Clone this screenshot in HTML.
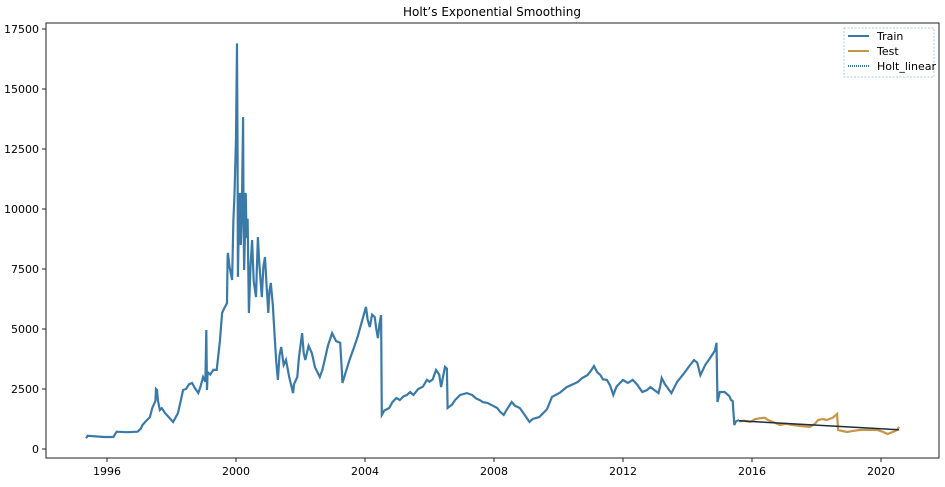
<!DOCTYPE html>
<html><head><meta charset="utf-8"><style>
body{margin:0;background:#fff;}
svg{font-family:"DejaVu Sans","Liberation Sans",sans-serif;}
</style></head><body>
<svg id="chart" width="945" height="482" xmlns="http://www.w3.org/2000/svg">
<rect width="945" height="482" fill="#fff"/>
<text x="492" y="16" text-anchor="middle" font-size="12">Holt’s Exponential Smoothing</text>
<g id="axes"></g>
<g id="series"></g>
<rect x="46" y="23" width="893" height="435" fill="none" stroke="#222" stroke-width="1"/>
<g>
<rect x="844" y="28" width="90" height="49" fill="#fff" stroke="#a8cde4" stroke-dasharray="2,1.5" stroke-width="1"/>
<line x1="848" y1="36" x2="869" y2="36" stroke="#3a7aa8" stroke-width="2"/>
<text x="877" y="40" font-size="11">Train</text>
<line x1="848" y1="51" x2="869" y2="51" stroke="#c8964a" stroke-width="2"/>
<text x="877" y="55" font-size="11">Test</text>
<line x1="848" y1="66" x2="869" y2="66" stroke="#3a7aa8" stroke-width="2" stroke-dasharray="1,1"/>
<text x="877" y="70" font-size="11">Holt_linear</text>
</g>
</svg>
<script>
const trainDates=[1995.35,1995.4,1995.9,1996.2,1996.25,1996.3,1996.6,1996.95,1997.05,1997.1,1997.2,1997.33,1997.4,1997.5,1997.52,1997.55,1997.58,1997.64,1997.7,1997.8,1997.9,1998.05,1998.12,1998.2,1998.3,1998.36,1998.45,1998.55,1998.64,1998.72,1998.83,1998.9,1998.98,1999.05,1999.08,1999.1,1999.12,1999.2,1999.3,1999.4,1999.5,1999.57,1999.65,1999.72,1999.74,1999.75,1999.8,1999.88,1999.92,1999.95,1999.98,2000.0,2000.03,2000.05,2000.06,2000.09,2000.12,2000.15,2000.18,2000.22,2000.23,2000.25,2000.28,2000.3,2000.33,2000.36,2000.4,2000.45,2000.5,2000.55,2000.62,2000.65,2000.68,2000.72,2000.8,2000.85,2000.9,2000.95,2001.0,2001.04,2001.08,2001.14,2001.2,2001.25,2001.3,2001.35,2001.4,2001.48,2001.55,2001.65,2001.77,2001.8,2001.9,2001.95,2002.05,2002.1,2002.15,2002.25,2002.35,2002.45,2002.6,2002.68,2002.75,2002.85,2002.98,2003.1,2003.23,2003.28,2003.3,2003.4,2003.52,2003.65,2003.77,2003.9,2004.03,2004.08,2004.15,2004.22,2004.3,2004.35,2004.4,2004.45,2004.5,2004.52,2004.6,2004.75,2004.85,2004.97,2005.08,2005.2,2005.3,2005.4,2005.5,2005.65,2005.8,2005.92,2006.0,2006.1,2006.2,2006.3,2006.36,2006.42,2006.48,2006.54,2006.56,2006.7,2006.8,2006.95,2007.16,2007.32,2007.45,2007.55,2007.66,2007.8,2007.97,2008.1,2008.19,2008.3,2008.4,2008.55,2008.65,2008.8,2008.96,2009.1,2009.2,2009.4,2009.64,2009.8,2010.05,2010.25,2010.45,2010.6,2010.73,2010.9,2011.0,2011.1,2011.2,2011.3,2011.38,2011.5,2011.6,2011.7,2011.8,2012.0,2012.15,2012.3,2012.43,2012.6,2012.74,2012.85,2012.98,2013.1,2013.15,2013.2,2013.3,2013.5,2013.68,2013.9,2014.08,2014.2,2014.3,2014.4,2014.55,2014.7,2014.85,2014.9,2014.93,2015.0,2015.15,2015.3,2015.35,2015.4,2015.45,2015.5,2015.6];
const trainVals=[450,550,500,500,620,720,700,720,850,1000,1150,1330,1700,2000,2500,2460,2000,1625,1700,1500,1350,1125,1300,1500,2100,2460,2500,2700,2750,2550,2330,2600,3000,2800,4960,2460,3200,3100,3300,3290,4500,5670,5900,6080,8000,8170,7600,7040,9540,10500,12000,13000,16900,12000,7170,9500,10670,8500,9800,13830,11000,7460,9000,10670,8800,9600,5670,7600,8710,7000,6330,7700,8830,7800,6330,7600,8000,6800,5670,6600,6920,6000,4670,3600,2880,3900,4250,3500,3710,3000,2330,2700,3000,3800,4830,4000,3710,4300,4000,3400,3000,3300,3710,4300,4830,4500,4420,3300,2750,3200,3710,4200,4670,5300,5920,5400,5080,5600,5500,5000,4620,5200,5580,1420,1600,1710,1950,2125,2040,2200,2250,2375,2250,2500,2600,2880,2800,2900,3290,3100,2580,3000,3420,3350,1710,1850,2050,2250,2330,2250,2100,2040,1950,1920,1800,1710,1550,1420,1650,1960,1800,1710,1400,1125,1250,1330,1650,2170,2350,2580,2700,2790,2950,3080,3250,3460,3200,3080,2900,2880,2650,2250,2600,2880,2750,2880,2700,2375,2450,2580,2450,2330,2600,2960,2700,2330,2800,3170,3500,3710,3600,3080,3500,3790,4100,4420,1960,2375,2375,2200,2040,2000,1000,1150,1210];
const testDates=[2015.6,2015.75,2015.95,2016.1,2016.3,2016.4,2016.5,2016.7,2016.87,2017.05,2017.27,2017.5,2017.8,2017.95,2018.05,2018.2,2018.32,2018.5,2018.64,2018.67,2018.8,2018.95,2019.15,2019.35,2019.6,2019.88,2020.05,2020.2,2020.35,2020.5,2020.56];
const testVals=[1150,1180,1125,1250,1290,1300,1210,1100,1000,1050,1000,960,920,1050,1210,1250,1210,1300,1460,790,750,710,760,790,800,790,720,625,700,790,920];
const holtDates=[2015.6,2020.56];
const holtVals=[1175,800];
const yTicks=[0,2500,5000,7500,10000,12500,15000,17500];
const xTicks=[1996,2000,2004,2008,2012,2016,2020];
const X=d=>107+(d-1996)*32.25;
const Y=v=>449-v*60/2500;
const NS="http://www.w3.org/2000/svg";
const ax=document.getElementById('axes'),sr=document.getElementById('series');
function mk(tag,attrs,parent){const e=document.createElementNS(NS,tag);for(const k in attrs)e.setAttribute(k,attrs[k]);parent.appendChild(e);return e;}
yTicks.forEach(v=>{
  const l=mk('line',{x1:42,x2:46,y1:Y(v),y2:Y(v),stroke:'#222'},ax);
  
  
  const t=mk('text',{x:39,y:Y(v)+4,'text-anchor':'end','font-size':'11'},ax);
  t.textContent=v;
  
  
});
xTicks.forEach(d=>{
  const l=mk('line',{x1:X(d),x2:X(d),y1:458,y2:462,stroke:'#222'},ax);
  
  
  const t=mk('text',{x:X(d),y:475,'text-anchor':'middle','font-size':'11'},ax);
  t.textContent=d;
  
  
});
function pts(ds,vs){return ds.map((d,i)=>X(d).toFixed(1)+','+Y(vs[i]).toFixed(1)).join(' ');}
const p1=mk('polyline',{points:pts(trainDates,trainVals),fill:'none',stroke:'#3a7aa8','stroke-width':2.2,'stroke-linejoin':'miter'},sr);


const p2=mk('polyline',{points:pts(testDates,testVals),fill:'none',stroke:'#c8964a','stroke-width':2.2,'stroke-linejoin':'miter'},sr);


const p3=mk('polyline',{points:pts(holtDates,holtVals),fill:'none',stroke:'#1d2d3c','stroke-width':1.5},sr);


</script>
</body></html>
